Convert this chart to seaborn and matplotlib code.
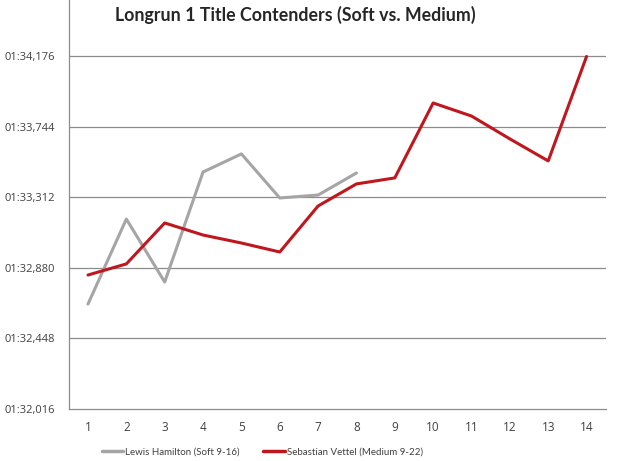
import matplotlib
matplotlib.use("Agg")

import matplotlib.pyplot as plt
import numpy as np
import pandas as pd
import seaborn as sns
from matplotlib.ticker import FuncFormatter, MultipleLocator

laps = list(range(1, 15))
hamilton_laps = list(range(1, 9))
# lap times in seconds
hamilton_times = [92.659, 93.180, 92.794, 93.468, 93.579, 93.309, 93.327, 93.462]
vettel_times = [92.837, 92.905, 93.156, 93.082, 93.033, 92.978, 93.260,
                93.395, 93.432, 93.891, 93.811, 93.671, 93.536, 94.176]
y_ticks = [92.016, 92.448, 92.880, 93.312, 93.744, 94.176]

series_names = ["Lewis Hamilton (Soft 9-16)", "Sebastian Vettel (Medium 9-22)"]
colors = ["#A5A5A5", "#C0161E"]

df = pd.concat([
    pd.DataFrame({"lap": hamilton_laps, "time": hamilton_times, "driver": series_names[0]}),
    pd.DataFrame({"lap": laps, "time": vettel_times, "driver": series_names[1]}),
])

sns.set_style("white")
plt.rcParams["font.family"] = ["Open Sans", "DejaVu Sans"]

fig = plt.figure(figsize=(6.2, 4.61), dpi=100)
ax = fig.add_axes([0.111, 0.1128, 0.866, 0.8872])

sns.lineplot(data=df, x="lap", y="time", hue="driver", palette=colors,
             linewidth=2.2, ax=ax, legend=False, sort=False)


def fmt_time(v, pos):
    total_ms = int(round(v * 1000))
    m, rest = divmod(total_ms, 60000)
    s, ms = divmod(rest, 1000)
    return f"{m:02d}:{s:02d},{ms:03d}"


ax.set_ylim(92.016, 94.522)
ax.set_yticks(y_ticks)
ax.yaxis.set_major_formatter(FuncFormatter(fmt_time))
ax.set_xlim(0.5, 14.5)
ax.set_xticks(laps)
ax.xaxis.set_minor_locator(MultipleLocator(1, offset=0.5))
ax.tick_params(axis="x", which="major", length=0, pad=9, labelsize=8.5, colors="#404040")
ax.tick_params(axis="x", which="minor", length=4, width=0.8, color="#808080", direction="out")
ax.tick_params(axis="y", length=0, pad=10, labelsize=8, colors="#404040")
ax.set_xlabel("")
ax.set_ylabel("")

for y in y_ticks[1:]:
    ax.axhline(y, color="#8C8C8C", linewidth=0.9, zorder=0)

for side in ["top", "right"]:
    ax.spines[side].set_visible(False)
for side in ["left", "bottom"]:
    ax.spines[side].set_color("#8C8C8C")
    ax.spines[side].set_linewidth(0.9)

fig.text(0.476, 0.967, "Longrun 1 Title Contenders (Soft vs. Medium)",
         ha="center", va="center", fontsize=12.8, fontweight="bold",
         family=["Lato", "DejaVu Sans"])

handles = [plt.Line2D([], [], color=c, linewidth=2.5) for c in colors]
fig.legend(handles, series_names, loc="center", bbox_to_anchor=(0.423, 0.02),
           ncol=2, frameon=False, handlelength=2.2,
           handletextpad=0.2, columnspacing=2.4, labelcolor="#404040",
           prop={"family": ["Lato", "DejaVu Sans"], "size": 7.0})

fig.savefig("out.png", dpi=100, facecolor="white")
